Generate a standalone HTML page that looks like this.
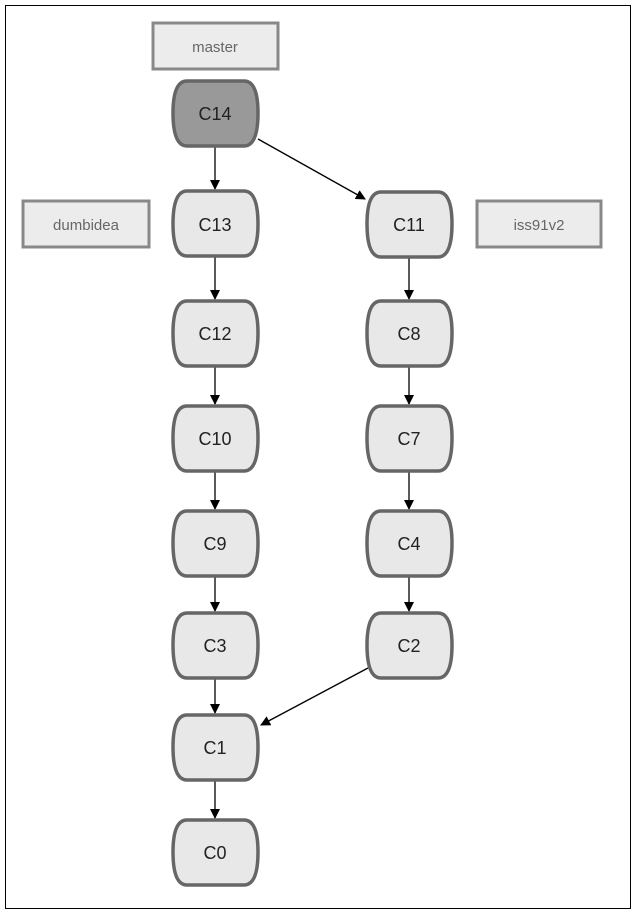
<!DOCTYPE html><html><head><style>body{margin:0;background:#fff}</style></head><body>
<svg width="640" height="916" xmlns="http://www.w3.org/2000/svg" font-family="Liberation Sans, sans-serif">
<defs><marker id="a" markerWidth="10" markerHeight="10" refX="9" refY="5" orient="auto" markerUnits="userSpaceOnUse"><path d="M0,0 L10,5 L0,10z" fill="#000"/></marker></defs>
<rect x="5.5" y="5.5" width="625" height="903" fill="#fff" stroke="#000" stroke-width="1"/>
<g fill="#ececec" stroke="#888" stroke-width="3">
<rect x="153" y="23" width="125" height="46"/>
<rect x="23" y="201" width="126" height="46"/>
<rect x="477" y="201" width="124" height="46"/>
</g>
<g font-size="15" fill="#666" text-anchor="middle">
<text x="215" y="52">master</text><text x="86" y="230">dumbidea</text><text x="539" y="230">iss91v2</text>
</g>
<g stroke="#000" stroke-width="1.3" marker-end="url(#a)">
<line x1="215" y1="147" x2="215" y2="189"/>
<line x1="258" y1="139" x2="365" y2="199"/>
<line x1="215" y1="257" x2="215" y2="299"/>
<line x1="215" y1="367" x2="215" y2="404"/>
<line x1="215" y1="472" x2="215" y2="509"/>
<line x1="215" y1="577" x2="215" y2="611"/>
<line x1="215" y1="679" x2="215" y2="713"/>
<line x1="215" y1="781" x2="215" y2="818"/>
<line x1="409" y1="258" x2="409" y2="299"/>
<line x1="409" y1="367" x2="409" y2="404"/>
<line x1="409" y1="472" x2="409" y2="509"/>
<line x1="409" y1="577" x2="409" y2="611"/>
<line x1="368" y1="668" x2="261" y2="725"/>
</g>
<g id="nodes" stroke="#666" stroke-width="3.5" font-size="18">
</g>
<g stroke="#666" stroke-width="3.5">
<path d="M187,81 H244 Q258,81 258,113 Q258,146 244,146 H187 Q173,146 173,113 Q173,81 187,81Z" fill="#999"/>
<g fill="#e8e8e8">
<path d="M187,191 H244 Q258,191 258,224 Q258,256 244,256 H187 Q173,256 173,224 Q173,191 187,191Z"/>
<path d="M187,301 H244 Q258,301 258,333 Q258,366 244,366 H187 Q173,366 173,333 Q173,301 187,301Z"/>
<path d="M187,406 H244 Q258,406 258,438 Q258,471 244,471 H187 Q173,471 173,438 Q173,406 187,406Z"/>
<path d="M187,511 H244 Q258,511 258,543 Q258,576 244,576 H187 Q173,576 173,543 Q173,511 187,511Z"/>
<path d="M187,613 H244 Q258,613 258,645 Q258,678 244,678 H187 Q173,678 173,645 Q173,613 187,613Z"/>
<path d="M187,715 H244 Q258,715 258,747 Q258,780 244,780 H187 Q173,780 173,747 Q173,715 187,715Z"/>
<path d="M187,820 H244 Q258,820 258,852 Q258,885 244,885 H187 Q173,885 173,852 Q173,820 187,820Z"/>
<path d="M381,192 H438 Q452,192 452,224 Q452,257 438,257 H381 Q367,257 367,224 Q367,192 381,192Z"/>
<path d="M381,301 H438 Q452,301 452,333 Q452,366 438,366 H381 Q367,366 367,333 Q367,301 381,301Z"/>
<path d="M381,406 H438 Q452,406 452,438 Q452,471 438,471 H381 Q367,471 367,438 Q367,406 381,406Z"/>
<path d="M381,511 H438 Q452,511 452,543 Q452,576 438,576 H381 Q367,576 367,543 Q367,511 381,511Z"/>
<path d="M381,613 H438 Q452,613 452,645 Q452,678 438,678 H381 Q367,678 367,645 Q367,613 381,613Z"/>
</g></g>
<g font-size="18" fill="#222" text-anchor="middle">
<text x="215" y="120">C14</text><text x="215" y="231">C13</text><text x="215" y="340">C12</text><text x="215" y="445">C10</text><text x="215" y="550">C9</text><text x="215" y="652">C3</text><text x="215" y="754">C1</text><text x="215" y="859">C0</text>
<text x="409" y="231">C11</text><text x="409" y="340">C8</text><text x="409" y="445">C7</text><text x="409" y="550">C4</text><text x="409" y="652">C2</text>
</g>
</svg></body></html>
